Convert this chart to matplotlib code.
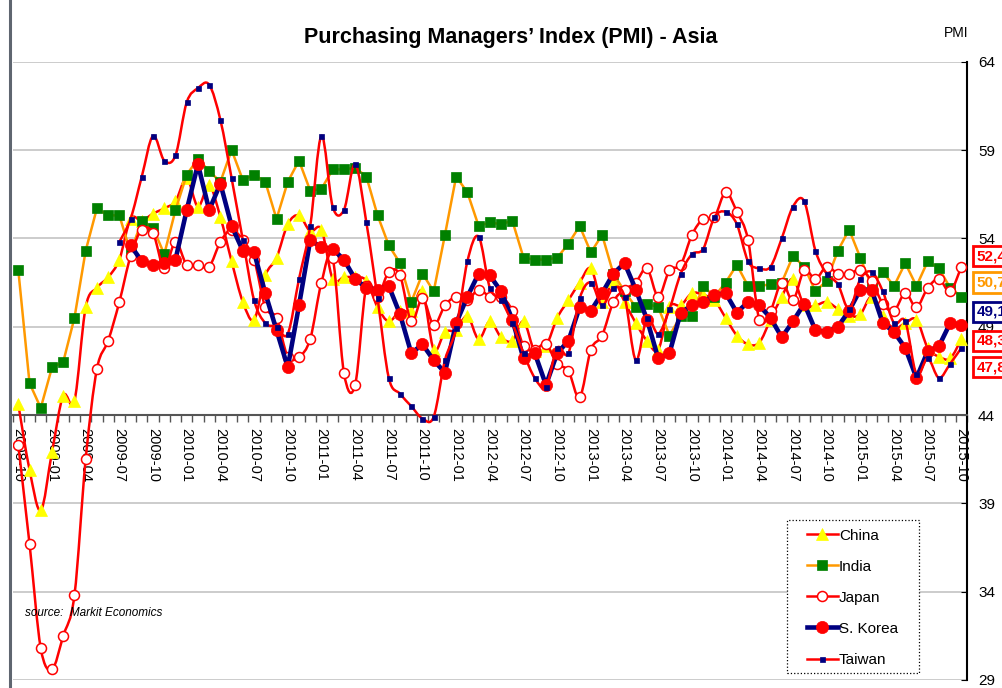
import matplotlib.pyplot as plt
import numpy as np
from matplotlib.path import Path
from matplotlib.patches import PathPatch, Rectangle
from matplotlib.lines import Line2D

plt.rcParams['font.family'] = ['Liberation Sans', 'DejaVu Sans']

nan = np.nan

# monthly PMI, 2008-10 .. 2015-10
china = [44.6, 40.9, 38.6, 41.9, 45.1, 44.8, 50.1, 51.2, 51.8, 52.8,
         55.1, 55.0, 55.4, 55.7, 56.1, 57.4, 55.8, 57.0, 55.2, 52.7,
         50.4, 49.4, 51.9, 52.9, 54.8, 55.3, 54.4, 54.5, 51.7, 51.8,
         51.8, 51.6, 50.1, 49.3, 49.9, 49.9, 51.0, 47.7, 48.7, 48.8,
         49.6, 48.3, 49.3, 48.4, 48.2, 49.3, 47.6, 47.9, 49.5, 50.5,
         51.5, 52.3, 50.4, 51.6, 50.4, 49.2, 48.2, 47.7, 50.1, 50.2,
         50.9, 50.8, 50.5, 49.5, 48.5, 48.0, 48.1, 49.4, 50.7, 51.7,
         50.2, 50.2, 50.4, 50.0, 49.6, 49.7, 50.7, 49.6, 48.9, 49.2,
         49.4, 47.8, 47.3, 47.2, 48.3]
india = [52.2, 45.8, 44.4, 46.7, 47.0, 49.5, 53.3, 55.7, 55.3, 55.3,
         53.2, 55.0, 54.6, 53.1, 55.6, 57.6, 58.5, 57.8, 57.2, 59.0,
         57.3, 57.6, 57.2, 55.1, 57.2, 58.4, 56.7, 56.8, 57.9, 57.9,
         58.0, 57.5, 55.3, 53.6, 52.6, 50.4, 52.0, 51.0, 54.2, 57.5,
         56.6, 54.7, 54.9, 54.8, 55.0, 52.9, 52.8, 52.8, 52.9, 53.7,
         54.7, 53.2, 54.2, 52.0, 51.0, 50.1, 50.3, 50.1, 48.5, 49.6,
         49.6, 51.3, 50.7, 51.5, 52.5, 51.3, 51.3, 51.4, 51.5, 53.0,
         52.4, 51.0, 51.6, 53.3, 54.5, 52.9, 51.3, 52.1, 51.3, 52.6,
         51.3, 52.7, 52.3, 51.2, 50.7]
japan = [42.3, 36.7, 30.8, 29.6, 31.5, 33.8, 41.5, 46.6, 48.2, 50.4,
         53.0, 54.5, 54.3, 52.3, 53.8, 52.5, 52.5, 52.4, 53.8, 54.5,
         53.9, 52.8, 50.1, 49.5, 47.3, 47.3, 48.3, 51.5, 52.9, 46.4,
         45.7, 51.3, 50.7, 52.1, 51.9, 49.3, 50.6, 49.1, 50.2, 50.7,
         50.5, 51.1, 50.7, 50.7, 49.9, 47.9, 47.7, 48.0, 46.9, 46.5,
         45.0, 47.7, 48.5, 50.4, 51.1, 51.5, 52.3, 50.7, 52.2, 52.5,
         54.2, 55.1, 55.2, 56.6, 55.5, 53.9, 49.4, 49.9, 51.5, 50.5,
         52.2, 51.7, 52.4, 52.0, 52.0, 52.2, 51.6, 50.3, 49.9, 50.9,
         50.1, 51.2, 51.7, 51.0, 52.4]
korea = [nan] * 10 + [
         53.6, 52.7, 52.5, 52.6, 52.8, 55.6, 58.2, 55.6, 57.1, 54.7,
         53.3, 53.2, 50.9, 48.8, 46.7, 50.2, 53.9, 53.5, 53.4, 52.8,
         51.7, 51.2, 51.1, 51.3, 49.7, 47.5, 48.0, 47.1, 46.4, 49.2,
         50.7, 52.0, 51.9, 51.0, 49.4, 47.2, 47.5, 45.7, 47.5, 48.2,
         50.1, 49.9, 50.9, 52.0, 52.6, 51.1, 49.4, 47.2, 47.5, 49.8,
         50.2, 50.4, 50.8, 50.9, 49.8, 50.4, 50.2, 49.5, 48.4, 49.3,
         50.3, 48.8, 48.7, 49.0, 49.9, 51.1, 51.1, 49.2, 48.7, 47.8,
         46.1, 47.6, 47.9, 49.2, 49.1]
taiwan = [nan] * 9 + [53.8,
          55.1, 57.5, 59.8, 58.4, 58.7, 61.7, 62.5, 62.7, 60.7, 57.4,
          53.9, 50.5, 49.2, 49.0, 48.6, 51.7, 54.7, 59.8, 55.8, 55.6,
          58.2, 54.9, 50.6, 46.1, 45.2, 44.5, 43.8, 43.9, 47.1, 48.9,
          52.7, 54.1, 51.2, 50.5, 49.2, 47.5, 46.1, 45.6, 47.8, 47.5,
          50.6, 51.5, 50.2, 51.2, 50.7, 47.1, 49.5, 48.6, 50.0, 52.0,
          53.1, 53.4, 55.2, 55.5, 54.8, 52.7, 52.3, 52.4, 54.0, 55.8,
          56.1, 53.3, 52.0, 51.4, 50.0, 51.7, 52.1, 51.0, 49.2, 49.3,
          46.3, 47.2, 46.1, 46.9, 47.8]

tick_labels = ['2008-10', '2009-01', '2009-04', '2009-07', '2009-10',
               '2010-01', '2010-04', '2010-07', '2010-10', '2011-01',
               '2011-04', '2011-07', '2011-10', '2012-01', '2012-04',
               '2012-07', '2012-10', '2013-01', '2013-04', '2013-07',
               '2013-10', '2014-01', '2014-04', '2014-07', '2014-10',
               '2015-01', '2015-04', '2015-07', '2015-10']

# last-value boxes on the right: text, y position of the box, colour
end_labels = ['52,4', '50,7', '49,1', '48,3', '47,8']
end_pos = [53.0, 51.5, 49.85, 48.2, 46.7]
end_colors = ['#FF0000', '#FF9900', '#000080', '#FF0000', '#FF0000']


def smooth_path(x, y):
    # excel-like smoothed line: cubic bezier through every point
    pts = np.column_stack([x, y])
    n = len(pts)
    verts = [pts[0]]
    codes = [Path.MOVETO]
    for i in range(n - 1):
        p0 = pts[i - 1] if i > 0 else pts[i]
        p1 = pts[i]
        p2 = pts[i + 1]
        p3 = pts[i + 2] if i + 2 < n else pts[i + 1]
        verts += [p1 + (p2 - p0) / 6, p2 - (p3 - p1) / 6, p2]
        codes += [Path.CURVE4] * 3
    return Path(verts, codes)


series = [
    ('China', china, '#FF0000', 1.8, True, '^', 8.5, '#FFFF00', '#FFFF00', 0.5),
    ('India', india, '#FF9900', 1.8, False, 's', 7.5, '#008000', '#008000', 0.5),
    ('Japan', japan, '#FF0000', 1.8, True, 'o', 7.2, 'white', '#FF0000', 1.1),
    ('S. Korea', korea, '#000080', 3.3, False, 'o', 8.8, '#FF0000', '#FF0000', 0.5),
    ('Taiwan', taiwan, '#FF0000', 1.8, True, 's', 3.6, '#000080', '#000080', 0.5),
]

fig = plt.figure(figsize=(10.02, 6.88), dpi=100)
ax = fig.add_axes([0.01267, 0.01163, 0.9524, 0.8987])

months = np.arange(len(china))
handles = []
for i, (name, vals, lc, lw, smooth, mk, ms, mfc, mec, mew) in enumerate(series):
    vals = np.array(vals, dtype=float)
    ok = ~np.isnan(vals)
    xs, ys = months[ok], vals[ok]
    if smooth:
        ax.add_patch(PathPatch(smooth_path(xs, ys), fill=False, edgecolor=lc,
                               lw=lw, capstyle='round', joinstyle='round',
                               zorder=3 + i))
    else:
        ax.plot(xs, ys, color=lc, lw=lw, solid_joinstyle='round', zorder=3 + i)
    ax.plot(xs, ys, ls='none', marker=mk, ms=ms, mfc=mfc, mec=mec, mew=mew,
            zorder=3.5 + i)
    handles.append(Line2D([], [], color=lc, lw=lw, marker=mk, ms=ms,
                          mfc=mfc, mec=mec, mew=mew))

ax.set_xlim(-0.5, 84.5)
ax.set_ylim(29, 64)

# y axis on the right
ax.set_yticks(np.arange(29, 65, 5))
ax.yaxis.tick_right()
ax.yaxis.grid(True, color='#c8c8c8', lw=1.3)
ax.set_axisbelow(True)
ax.tick_params(axis='y', direction='in', length=4, labelsize=11, pad=8,
               color='black')
for s in ['left', 'top']:
    ax.spines[s].set_visible(False)
ax.spines['right'].set_linewidth(1.5)
ax.spines['right'].set_zorder(1)

# x axis crossing at 44
ax.spines['bottom'].set_position(('data', 44))
ax.spines['bottom'].set_color('#555555')
ax.spines['bottom'].set_linewidth(1.5)
ax.spines['bottom'].set_zorder(1)
ax.set_xticks(np.arange(0, 85, 3))
ax.set_xticklabels(tick_labels, rotation=270, fontsize=10.5)
ax.tick_params(axis='x', which='major', length=0, pad=9)
ax.set_xticks(np.arange(-0.5, 85, 1), minor=True)
ax.tick_params(axis='x', which='minor', length=5, direction='out',
               color='#555555', width=1)

# boxes with the latest values
ytr = ax.get_yaxis_transform()
for lab, yp, c in zip(end_labels, end_pos, end_colors):
    ax.text(1.0100, yp, lab, transform=ytr, color=c, fontsize=11,
            fontweight='bold', va='center', ha='left', clip_on=False,
            bbox=dict(boxstyle='square,pad=0.2', fc='white', ec=c, lw=2))

# legend in a dotted white box
ax.add_patch(Rectangle((0.8114, 0.0113), 0.1383, 0.2475, transform=ax.transAxes,
                       fc='white', ec='black', ls=':', lw=0.9, zorder=20))
leg = ax.legend(handles, [s[0] for s in series], loc='upper left',
                bbox_to_anchor=(0.8323, 0.2450), frameon=False, fontsize=11,
                labelspacing=1.12, handlelength=2.0, handletextpad=0.1,
                borderpad=0, borderaxespad=0)
leg.set_zorder(21)

fig.text(511 / 1002, 1 - 37 / 688, 'Purchasing Managers\u2019 Index (PMI) - Asia',
         ha='center', va='center', fontsize=15.5, fontweight='bold')
fig.text(956 / 1002, 1 - 33 / 688, 'PMI', ha='center', va='center', fontsize=10)
fig.text(25 / 1002, 1 - 613 / 688, 'source:  Markit Economics', style='italic',
         fontsize=8.5, va='center')
fig.add_artist(Line2D([0.0097, 0.0097], [0, 1], transform=fig.transFigure,
                      color='#5f6670', lw=2.2))

fig.savefig('out.png', dpi=100)
